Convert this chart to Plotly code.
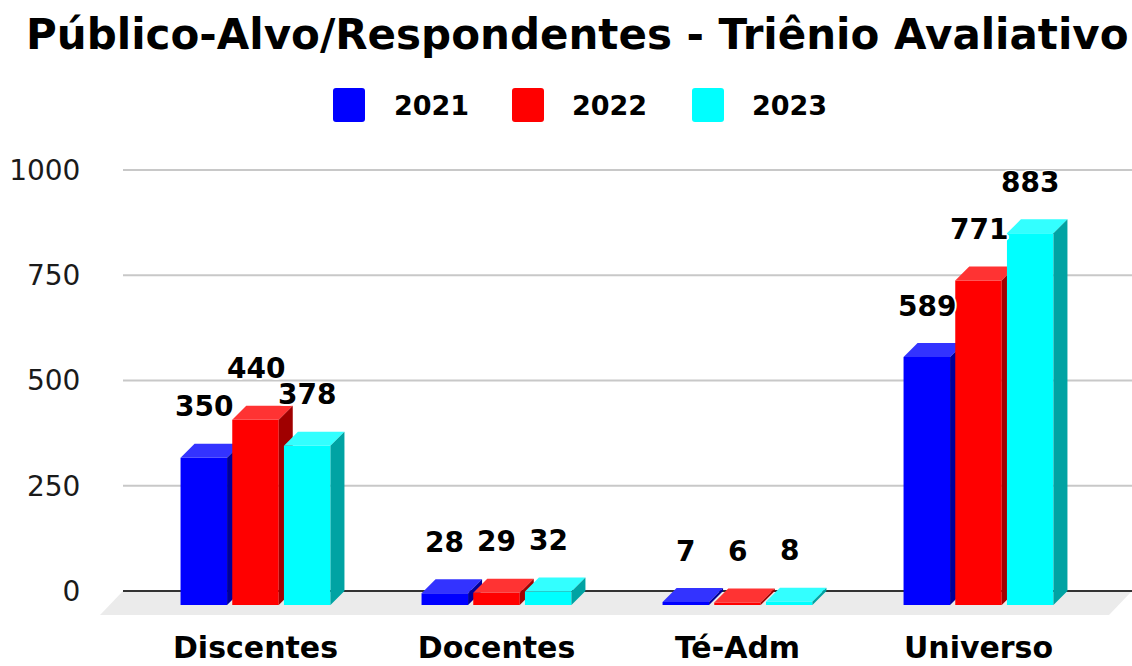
import plotly.graph_objects as go

# ---------------- data ----------------
categories = ["Discentes", "Docentes", "Té-Adm", "Universo"]
years = ["2021", "2022", "2023"]
values_2021 = [350, 28, 7, 589]
values_2022 = [440, 29, 6, 771]
values_2023 = [378, 32, 8, 883]
y_tick_values = [0, 250, 500, 750, 1000]
series = [values_2021, values_2022, values_2023]

# ---------------- styles ----------------
front_colors = ["#0000FF", "#FF0000", "#00FFFF"]
top_colors = ["#3333FF", "#FF3333", "#33FFFF"]
side_colors = ["#000099", "#A00000", "#00A3A3"]
FONT = "DejaVu Sans"

W, H = 1132, 666
L, R, T, B = 95, 0, 140, 40
PX_X = 241.0          # pixels per category unit
PX_Y = 0.421          # pixels per value unit
ZERO_PX = 591.0       # pixel row of value 0
CAT0_PX = 255.5       # pixel column of first category centre
WALL_PX = 123.0       # left end of the back wall / gridlines

x_min = -(CAT0_PX - L) / PX_X
x_max = (W - R - CAT0_PX) / PX_X
y_max = (ZERO_PX - T) / PX_Y
y_min = -((H - B) - ZERO_PX) / PX_Y
x_wall = -(CAT0_PX - WALL_PX) / PX_X

bar_w = 46.5 / PX_X
bar_step = 51.7 / PX_X
depth_x = 14.0 / PX_X
depth_y = 14.0 / PX_Y
floor_dx = 23.0 / PX_X
floor_bottom = -24.0 / PX_Y

fig = go.Figure()

for ci, cat in enumerate(categories):
    for si, vals in enumerate(series):
        v = vals[ci]
        cx = ci + (si - 1) * bar_step
        x0, x1 = cx - bar_w / 2, cx + bar_w / 2
        yb, yt = -depth_y, v - depth_y
        # front face
        fig.add_trace(go.Scatter(
            x=[x0, x1, x1, x0, x0], y=[yb, yb, yt, yt, yb],
            fill="toself", fillcolor=front_colors[si], mode="lines",
            line=dict(width=0, color=front_colors[si]),
            showlegend=False, hoverinfo="skip"))
        # top face
        fig.add_trace(go.Scatter(
            x=[x0, x1, x1 + depth_x, x0 + depth_x, x0],
            y=[yt, yt, v, v, yt],
            fill="toself", fillcolor=top_colors[si], mode="lines",
            line=dict(width=0, color=top_colors[si]),
            showlegend=False, hoverinfo="skip"))
        # side face
        fig.add_trace(go.Scatter(
            x=[x1, x1 + depth_x, x1 + depth_x, x1, x1],
            y=[yb, 0, v, yt, yb],
            fill="toself", fillcolor=side_colors[si], mode="lines",
            line=dict(width=0, color=side_colors[si]),
            showlegend=False, hoverinfo="skip"))

# data labels
halo = "-1px -1px 0 white, 1px -1px 0 white, -1px 1px 0 white, 1px 1px 0 white, 0 2px 0 white, 2px 0 0 white"
annotations = []
for ci, cat in enumerate(categories):
    for si, vals in enumerate(series):
        v = vals[ci]
        cx = ci + (si - 1) * bar_step
        annotations.append(dict(
            x=cx, y=v, xref="x", yref="y", text=str(v), showarrow=False,
            yanchor="middle", xanchor="center", yshift=37,
            font=dict(family=FONT, size=28, color="black", weight="bold", shadow=halo)))

# shapes: floor, gridlines, zero line
shapes = []
shapes.append(dict(
    type="path", xref="x", yref="y", layer="below",
    path=f"M {x_wall} 0 L {x_max} 0 L {x_max - floor_dx} {floor_bottom} L {x_wall - floor_dx} {floor_bottom} Z",
    fillcolor="#EBEBEB", line=dict(width=0)))
for tv in y_tick_values[1:]:
    shapes.append(dict(type="line", xref="x", yref="y", layer="below",
                       x0=x_wall, x1=x_max, y0=tv, y1=tv,
                       line=dict(color="#C8C8C8", width=2)))
shapes.append(dict(type="line", xref="x", yref="y", layer="below",
                   x0=x_wall, x1=x_max, y0=0, y1=0,
                   line=dict(color="#333333", width=2)))

# custom legend (pixel positions converted to paper)
pw, ph = W - L - R, H - T - B
def px(xp):
    return (xp - L) / pw
def py(yp):
    return ((H - B) - yp) / ph

legend_boxes = [333, 512, 692]
legend_text_x = [392, 570, 750]
box_w, box_h, rad = 32, 34, 3
for si, yr in enumerate(years):
    bx0 = legend_boxes[si]
    by0 = 88
    bx1, by1 = bx0 + box_w, by0 + box_h
    path = (f"M {px(bx0 + rad)} {py(by0)} L {px(bx1 - rad)} {py(by0)} "
            f"Q {px(bx1)} {py(by0)} {px(bx1)} {py(by0 + rad)} "
            f"L {px(bx1)} {py(by1 - rad)} Q {px(bx1)} {py(by1)} {px(bx1 - rad)} {py(by1)} "
            f"L {px(bx0 + rad)} {py(by1)} Q {px(bx0)} {py(by1)} {px(bx0)} {py(by1 - rad)} "
            f"L {px(bx0)} {py(by0 + rad)} Q {px(bx0)} {py(by0)} {px(bx0 + rad)} {py(by0)} Z")
    shapes.append(dict(type="path", xref="paper", yref="paper", path=path,
                       fillcolor=front_colors[si], line=dict(width=0)))
    annotations.append(dict(
        x=px(legend_text_x[si]), y=py(105), xref="paper", yref="paper",
        text=yr, showarrow=False, xanchor="left", yanchor="middle",
        font=dict(family=FONT, size=27, color="black", weight="bold")))

fig.update_layout(
    width=W, height=H,
    margin=dict(l=L, r=R, t=T, b=B, autoexpand=False),
    paper_bgcolor="white", plot_bgcolor="white",
    title=dict(text="Público-Alvo/Respondentes - Triênio Avaliativo",
               x=0.51, xanchor="center", y=1 - 34 / H, yanchor="middle",
               yref="container", automargin=False,
               font=dict(family=FONT, size=42, color="black", weight="bold")),
    showlegend=False,
    shapes=shapes,
    annotations=annotations,
    xaxis=dict(range=[x_min, x_max], showgrid=False, zeroline=False, showline=False,
               automargin=False,
               tickmode="array", tickvals=list(range(len(categories))), ticktext=categories,
               ticks="", ticklabelstandoff=1,
               tickfont=dict(family=FONT, size=30, color="black", weight="bold"),
               fixedrange=True),
    yaxis=dict(range=[y_min, y_max], showgrid=False, zeroline=False, showline=False,
               automargin=False,
               tickmode="array", tickvals=y_tick_values,
               ticktext=[str(t) for t in y_tick_values],
               ticks="outside", ticklen=8, tickcolor="rgba(0,0,0,0)",
               tickfont=dict(family=FONT, size=28, color="#1a1a1a"),
               fixedrange=True),
)

fig.write_html(
    "out.html",
    config={"displayModeBar": False},
    post_script="document.body.style.margin='0';document.body.style.overflow='hidden';",
)
